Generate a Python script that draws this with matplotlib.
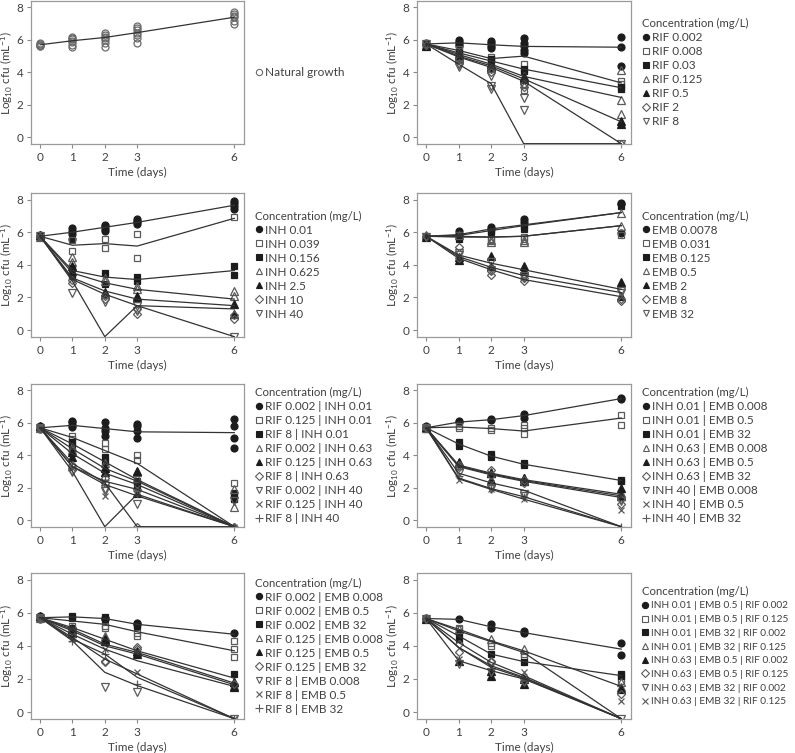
import matplotlib
matplotlib.use('Agg')
import matplotlib.pyplot as plt
from matplotlib.lines import Line2D

plt.rcParams['font.family'] = ['Lato', 'DejaVu Sans']
plt.rcParams['mathtext.fontset'] = 'custom'
plt.rcParams['mathtext.rm'] = 'Lato'
plt.rcParams['mathtext.it'] = 'Lato'

DAYS = [0, 1, 2, 3, 6]
LOW = -0.4  # below detection, drawn on the axis floor

# ---- panel 1: natural growth
growth_labels = ['Natural growth']
growth_lines = [[5.7, 5.95, 6.15, 6.45, 7.4]]
growth_pts = [[[5.6, 5.65, 5.7, 5.75, 5.8],
               [5.55, 5.7, 5.85, 5.95, 6.05, 6.1, 6.2],
               [5.55, 5.8, 6.0, 6.1, 6.2, 6.3, 6.4],
               [5.8, 6.1, 6.3, 6.45, 6.6, 6.75, 6.85],
               [7.0, 7.15, 7.4, 7.5, 7.6, 7.7]]]

# ---- panel 2: RIF
rif_labels = ['RIF 0.002', 'RIF 0.008', 'RIF 0.03', 'RIF 0.125', 'RIF 0.5', 'RIF 2', 'RIF 8']
rif_lines = [[5.75, 5.82, 5.7, 5.6, 5.55],
             [5.75, 5.35, 4.85, 5.0, 3.35],
             [5.75, 5.2, 4.7, 4.2, 3.05],
             [5.75, 5.1, 4.5, 3.75, 2.45],
             [5.75, 5.0, 4.4, 3.6, 0.95],
             [5.75, 4.95, 4.3, 3.45, LOW],
             [5.75, 4.5, 3.3, LOW, LOW]]
rif_pts = [[[5.7, 5.8], [5.6, 5.75, 5.9, 6.0], [5.5, 5.65, 5.8, 5.95], [5.2, 5.4, 5.6, 5.8, 6.1], [6.15, 5.55, 4.4]],
           [[5.7], [5.3, 5.45], [4.8, 4.95], [4.5, 3.2, 2.9], [3.45, 3.3]],
           [[5.75], [5.05, 5.2], [4.6, 4.8], [4.2, 4.1], [3.1, 2.95]],
           [[5.7], [5.0, 5.2], [4.4, 4.5], [3.8, 3.7], [4.15, 2.3, 1.4]],
           [[5.6], [4.9, 5.05], [4.3, 4.5], [3.6, 3.7], [1.0, 0.8]],
           [[5.7], [4.6, 4.8], [4.0, 4.2], [3.1, 3.3], [LOW]],
           [[5.75], [4.3, 4.45], [3.0, 3.15, 3.8], [2.4, 1.7], [LOW]]]

# ---- panel 3: INH
inh_labels = ['INH 0.01', 'INH 0.039', 'INH 0.156', 'INH 0.625', 'INH 2.5', 'INH 10', 'INH 40']
inh_lines = [[5.75, 6.0, 6.3, 6.6, 7.65],
             [5.75, 5.2, 5.3, 5.15, 6.85],
             [5.75, 3.65, 3.25, 3.1, 3.65],
             [5.75, 3.5, 2.9, 2.5, 1.9],
             [5.75, 3.2, 2.4, 1.9, 1.5],
             [5.75, 3.1, 2.2, 1.5, 1.3],
             [5.75, 3.0, LOW, 1.5, LOW]]
inh_pts = [[[5.7, 5.8], [5.6, 5.9, 6.1, 6.25], [6.05, 6.2, 6.35, 6.45], [6.5, 6.6, 6.7, 6.8], [7.4, 7.6, 7.8, 7.9]],
           [[5.7], [4.85, 5.5], [5.05, 5.6], [5.9, 4.4], [6.9]],
           [[5.75], [3.3, 3.8], [2.8, 3.5], [3.0, 3.25], [3.9, 3.35]],
           [[5.7], [4.2, 4.45], [3.0, 3.2], [2.5, 2.7], [2.4, 2.1]],
           [[5.8], [3.6, 3.9], [2.2, 2.35], [1.95, 2.1], [1.0, 1.6]],
           [[5.7], [2.9, 3.1], [1.9, 2.1], [1.0, 1.3], [0.7, 0.9]],
           [[5.75], [2.3], [1.7], [1.5, 1.2], [LOW]]]

# ---- panel 4: EMB
emb_labels = ['EMB 0.0078', 'EMB 0.031', 'EMB 0.125', 'EMB 0.5', 'EMB 2', 'EMB 8', 'EMB 32']
emb_lines = [[5.75, 5.85, 6.2, 6.45, 7.2],
             [5.75, 5.7, 5.7, 5.75, 6.4],
             [5.75, 5.8, 6.1, 6.4, 7.2],
             [5.75, 5.75, 5.7, 5.75, 6.4],
             [5.75, 4.6, 4.1, 3.7, 2.5],
             [5.75, 4.4, 3.7, 3.1, 2.05],
             [5.75, 4.5, 3.85, 3.35, 2.3]]
emb_pts = [[[5.7], [5.9, 6.1], [6.2, 6.3], [6.6, 6.8], [7.7, 7.8, 5.95]],
           [[5.75], [5.7, 5.8], [5.5, 5.6], [5.6, 5.7], [5.85]],
           [[5.7], [5.6, 5.75], [6.0, 6.1], [6.2, 6.35], [7.6]],
           [[5.8], [5.8], [5.4, 5.5], [5.4, 5.55], [7.2, 6.4]],
           [[5.7], [4.3, 4.5], [4.55, 3.9], [3.9, 3.7], [2.95, 2.1]],
           [[5.75], [4.4, 5.1], [3.4, 3.6], [3.0, 3.2], [1.8, 1.9]],
           [[5.7], [4.6, 4.7], [4.2, 3.7], [3.3, 3.2], [2.3, 2.4]]]

# ---- panel 5: RIF | INH
ri_labels = ['RIF 0.002 | INH 0.01', 'RIF 0.125 | INH 0.01', 'RIF 8 | INH 0.01',
             'RIF 0.002 | INH 0.63', 'RIF 0.125 | INH 0.63', 'RIF 8 | INH 0.63',
             'RIF 0.002 | INH 40', 'RIF 0.125 | INH 40', 'RIF 8 | INH 40']
ri_lines = [[5.7, 5.85, 5.65, 5.45, 5.4],
            [5.7, 5.1, 4.3, 3.5, LOW],
            [5.7, 4.7, 3.6, 2.5, LOW],
            [5.7, 4.4, 3.2, 2.4, LOW],
            [5.7, 4.1, 2.9, 2.2, LOW],
            [5.7, 3.5, 2.3, LOW, LOW],
            [5.7, 3.3, 2.2, 1.5, LOW],
            [5.7, 3.3, 2.4, 1.9, LOW],
            [5.7, 3.0, LOW, 1.6, LOW]]
ri_pts = [[[5.6, 5.8], [5.75, 5.9, 6.05, 6.1], [5.2, 5.5, 5.7, 6.05], [5.1, 5.5, 5.8, 5.95], [6.25, 5.8, 5.05, 4.45]],
          [[5.7], [5.2, 5.0], [4.75, 4.4], [4.0, 3.7], [2.3, 1.6]],
          [[5.75], [4.6, 4.8], [3.9, 3.6], [2.4, 2.2], [1.7, 1.3]],
          [[5.7], [4.3, 4.5], [3.3, 3.5], [3.0, 2.6], [1.9, 0.8]],
          [[5.8], [3.9, 4.2], [3.0, 3.2], [3.05, 1.7], [LOW]],
          [[5.7], [3.1, 3.4], [2.3, 2.6], [LOW], [LOW]],
          [[5.7], [3.0], [1.8, 1.9], [1.0, 1.7], [1.2]],
          [[5.75], [3.2], [1.5], [2.0], [LOW]],
          [[5.7], [3.3], [2.5], [1.8], [LOW]]]

# ---- panel 6: INH | EMB
ie_labels = ['INH 0.01 | EMB 0.008', 'INH 0.01 | EMB 0.5', 'INH 0.01 | EMB 32',
             'INH 0.63 | EMB 0.008', 'INH 0.63 | EMB 0.5', 'INH 0.63 | EMB 32',
             'INH 40 | EMB 0.008', 'INH 40 | EMB 0.5', 'INH 40 | EMB 32']
ie_lines = [[5.7, 6.05, 6.2, 6.45, 7.5],
            [5.7, 5.75, 5.65, 5.5, 6.3],
            [5.7, 4.7, 3.95, 3.45, 2.45],
            [5.7, 3.4, 2.9, 2.5, 1.6],
            [5.7, 3.35, 2.85, 2.45, 1.5],
            [5.7, 3.3, 2.8, 2.4, 1.4],
            [5.7, 2.9, 2.3, 1.85, LOW],
            [5.7, 2.6, 1.95, 1.45, LOW],
            [5.7, 2.55, 1.9, 1.3, LOW]]
ie_pts = [[[5.7, 5.8], [6.05, 6.1], [6.15, 6.25], [6.3, 6.55], [7.5, 7.55]],
          [[5.75], [5.7, 5.8], [5.55, 5.7], [5.3, 5.7, 5.85], [6.5, 5.85]],
          [[5.6], [4.6, 4.8], [3.9, 4.1], [3.4, 3.5], [2.4, 2.5]],
          [[5.7], [3.4, 3.5], [3.0, 2.9], [2.5, 2.6], [1.6, 1.7]],
          [[5.75], [3.5, 3.6], [2.9, 2.5], [2.6, 2.4], [2.0, 1.5]],
          [[5.7], [3.3, 3.4], [3.1, 2.8], [2.5, 2.3], [1.0, 1.3]],
          [[5.7], [2.9], [1.9, 2.0], [1.5, 1.6], [1.2]],
          [[5.75], [2.5], [2.3, 1.9], [1.3], [0.65]],
          [[5.7], [2.7], [2.2], [1.4], [LOW]]]

# ---- panel 7: RIF | EMB
re_labels = ['RIF 0.002 | EMB 0.008', 'RIF 0.002 | EMB 0.5', 'RIF 0.002 | EMB 32',
             'RIF 0.125 | EMB 0.008', 'RIF 0.125 | EMB 0.5', 'RIF 0.125 | EMB 32',
             'RIF 8 | EMB 0.008', 'RIF 8 | EMB 0.5', 'RIF 8 | EMB 32']
re_lines = [[5.7, 5.75, 5.65, 5.3, 4.7],
            [5.7, 5.5, 5.3, 4.85, 3.7],
            [5.7, 5.1, 4.4, 3.7, 2.05],
            [5.7, 5.0, 4.1, 3.6, 1.75],
            [5.7, 4.9, 4.0, 3.5, 1.65],
            [5.7, 4.7, 3.8, 3.1, 1.55],
            [5.7, 4.5, 3.2, 2.3, LOW],
            [5.7, 4.4, 3.5, 2.1, LOW],
            [5.7, 4.3, 2.4, 1.6, LOW]]
re_pts = [[[5.6, 5.8], [5.0, 5.1], [5.6, 5.7], [5.3, 5.4], [4.75]],
          [[5.7], [5.2], [5.1, 5.2], [4.6, 4.8], [4.3, 3.8, 3.3]],
          [[5.75], [5.7, 5.8], [5.6, 5.75], [5.2, 5.25], [2.3, 1.5]],
          [[5.7], [5.0], [4.5, 4.6], [3.6], [1.8, 1.6]],
          [[5.8], [4.8, 5.0], [4.3, 4.4], [3.5, 3.7], [1.5, 1.8]],
          [[5.7], [4.9], [3.1, 3.0], [3.9, 3.8], [1.7]],
          [[5.7], [4.5], [1.5], [1.2], [LOW]],
          [[5.75], [4.4], [3.8], [2.4], [LOW]],
          [[5.7], [4.3], [3.5], [1.7], [LOW]]]

# ---- panel 8: INH | EMB | RIF
ier_labels = ['INH 0.01 | EMB 0.5 | RIF 0.002', 'INH 0.01 | EMB 0.5 | RIF 0.125',
              'INH 0.01 | EMB 32 | RIF 0.002', 'INH 0.01 | EMB 32 | RIF 0.125',
              'INH 0.63 | EMB 0.5 | RIF 0.002', 'INH 0.63 | EMB 0.5 | RIF 0.125',
              'INH 0.63 | EMB 32 | RIF 0.002', 'INH 0.63 | EMB 32 | RIF 0.125']
ier_lines = [[5.65, 5.6, 5.15, 4.8, 3.8],
             [5.65, 4.9, 4.25, 3.6, LOW],
             [5.65, 4.6, 3.5, 3.05, 2.2],
             [5.65, 5.0, 4.3, 3.7, 1.55],
             [5.65, 3.9, 2.8, 2.1, LOW],
             [5.65, 4.2, 3.0, 2.2, LOW],
             [5.65, 3.1, 2.5, 2.0, LOW],
             [5.65, 3.9, 2.7, 2.05, LOW]]
ier_pts = [[[5.6, 5.7], [5.6], [5.3, 5.1], [4.9, 4.75], [4.15, 3.45]],
           [[5.65], [5.0, 5.1], [4.0, 4.2], [3.3, 3.5], [1.85]],
           [[5.6], [4.4, 4.8], [3.5], [3.05], [2.3, 2.15]],
           [[5.7], [5.0], [4.4], [3.8], [1.8, 1.5]],
           [[5.65], [3.1], [2.2, 2.5], [1.7, 2.0], [1.4]],
           [[5.6], [3.6, 4.1], [3.0, 3.1], [1.9, 2.1], [1.1]],
           [[5.65], [2.9], [2.4], [1.8], [LOW]],
           [[5.7], [3.2], [2.7], [2.4], [0.65]]]

DARK = '#1c1c1c'
OPEN = '#5a5a5a'
STYLES = [dict(marker='o', mfc=DARK, mec=DARK, ms=5),
          dict(marker='s', mfc='none', mec=OPEN, ms=5),
          dict(marker='s', mfc=DARK, mec=DARK, ms=5),
          dict(marker='^', mfc='none', mec=OPEN, ms=5.5),
          dict(marker='^', mfc=DARK, mec=DARK, ms=5.5),
          dict(marker='D', mfc='none', mec=OPEN, ms=4.5),
          dict(marker='v', mfc='none', mec=OPEN, ms=5.5),
          dict(marker='x', mfc='none', mec=OPEN, ms=5),
          dict(marker='+', mfc='none', mec=OPEN, ms=6)]
GROWTH_STYLE = [dict(marker='o', mfc='none', mec='#6a6a6a', ms=5)]

TXT = '#404040'
W, H = 795, 753
LEFT_X = (31, 244)
RIGHT_X = (417, 631)
ROWS = [(1, 144), (193, 337), (384, 527), (573, 719)]


def add_axes(fig, xr, yr):
    return fig.add_axes([xr[0] / W, 1 - yr[1] / H, (xr[1] - xr[0]) / W, (yr[1] - yr[0]) / H])


def draw_panel(ax, labels, lines, pts, styles, title=True, legsize=8.5):
    handles = []
    for i, lab in enumerate(labels):
        st = styles[i]
        for d, vals in zip(DAYS, pts[i]):
            ax.plot([d] * len(vals), vals, ls='none', mew=0.9, zorder=2, **st)
        ax.plot(DAYS, lines[i], color='#333333', lw=0.9, zorder=3)
        leg_st = dict(st)
        leg_st['ms'] = st['ms'] * 0.9
        if leg_st['mfc'] == 'none' and leg_st['marker'] not in ('x', '+'):
            leg_st['mfc'] = 'white'
        handles.append(Line2D([], [], ls='none', mew=0.8, label=lab, **leg_st))

    ax.set_xlim(-0.28, 6.3)
    ax.set_ylim(-0.42, 8.4)
    ax.set_xticks(DAYS)
    ax.set_yticks([0, 2, 4, 6, 8])
    ax.tick_params(colors='#888888', labelcolor=TXT, labelsize=8.5, length=3, width=0.8, pad=2.5)
    for sp in ax.spines.values():
        sp.set_color('#9a9a9a')
        sp.set_linewidth(0.9)
    ax.set_xlabel('Time (days)', fontsize=8.5, color=TXT, labelpad=3)
    ax.set_ylabel('Log$_{10}$ cfu (mL$^{-1}$)', fontsize=8.5, color=TXT, labelpad=1)

    # keep the row pitch at ~14.4 px whatever the label size
    row_h = 11.4 * legsize / 8.5
    spacing = (14.4 - row_h) / (legsize * 100 / 72)
    leg = ax.legend(handles=handles, loc='center left', bbox_to_anchor=(1.05, 0.5),
                    frameon=False, fontsize=legsize, handlelength=0.7, handletextpad=0.2,
                    labelspacing=spacing, borderpad=0, borderaxespad=0,
                    title='Concentration (mg/L)' if title else None, title_fontsize=8.2,
                    alignment='left')
    for t in leg.get_texts():
        t.set_color(TXT)
    if title:
        leg.get_title().set_color(TXT)


fig = plt.figure(figsize=(W / 100, H / 100), dpi=100)

panels = [
    (LEFT_X, ROWS[0], growth_labels, growth_lines, growth_pts, GROWTH_STYLE, False, 8.5),
    (RIGHT_X, ROWS[0], rif_labels, rif_lines, rif_pts, STYLES, True, 8.5),
    (LEFT_X, ROWS[1], inh_labels, inh_lines, inh_pts, STYLES, True, 8.5),
    (RIGHT_X, ROWS[1], emb_labels, emb_lines, emb_pts, STYLES, True, 8.5),
    (LEFT_X, ROWS[2], ri_labels, ri_lines, ri_pts, STYLES, True, 8.5),
    (RIGHT_X, ROWS[2], ie_labels, ie_lines, ie_pts, STYLES, True, 8.5),
    (LEFT_X, ROWS[3], re_labels, re_lines, re_pts, STYLES, True, 8.5),
    (RIGHT_X, ROWS[3], ier_labels, ier_lines, ier_pts, STYLES, True, 7.3),
]

for xr, yr, labels, lines, pts, styles, title, legsize in panels:
    ax = add_axes(fig, xr, yr)
    draw_panel(ax, labels, lines, pts, styles, title=title, legsize=legsize)

fig.savefig('out.png', dpi=100)
